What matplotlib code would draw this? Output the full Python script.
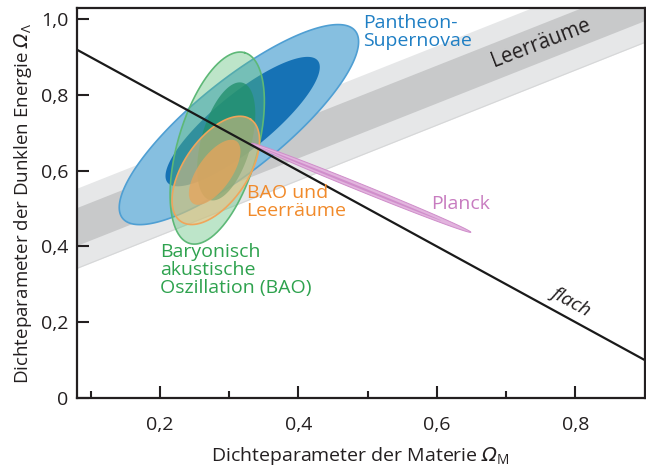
"""Dichteparameter: Omega_M vs Omega_Lambda mit Konfidenzbereichen."""

import numpy as np
import matplotlib
matplotlib.use("Agg")
import matplotlib.pyplot as plt
from matplotlib.ticker import FixedLocator, FuncFormatter

plt.rcParams['font.family'] = ['Open Sans', 'DejaVu Sans']
# math: slanted Omega via the cal slot, upright subscripts via \mathsf
plt.rcParams['mathtext.fontset'] = 'custom'
plt.rcParams['mathtext.rm'] = 'Open Sans'
plt.rcParams['mathtext.it'] = 'Open Sans:italic'
plt.rcParams['mathtext.cal'] = 'DejaVu Sans:oblique'
plt.rcParams['mathtext.sf'] = 'Open Sans'

# --- data -----------------------------------------------------------------
x_ticks = [0.2, 0.4, 0.6, 0.8]
x_minor = [0.1, 0.3, 0.5, 0.7]
y_ticks = [0.0, 0.2, 0.4, 0.6, 0.8, 1.0]

# flat universe: Omega_M + Omega_Lambda = 1
flat_x = [0.08, 0.90]
flat_y = [0.92, 0.10]

# Leerraeume band (lower / upper edges at both ends)
void_x = [0.08, 0.90]
void_dark_lo = [0.403, 0.997]
void_dark_hi = [0.503, 1.097]
void_light_lo = [0.342, 0.939]
void_light_hi = [0.554, 1.149]

# ellipses: center, semi-axis vector u, conjugate semi-axis vector v (data units)
pantheon_outer = ([0.314, 0.722], [0.168, 0.2475], [-0.0405, 0.0926])
pantheon_inner = ([0.3194, 0.730], [0.1085, 0.161], [-0.0253, 0.0575])
bao_outer = ([0.2827, 0.660], [0.0397, 0.252], [-0.0553, 0.0293])
bao_inner = ([0.2957, 0.6776], [0.0236, 0.155], [-0.0347, 0.0177])
bao_void_outer = ([0.2806, 0.601], [0.0505, 0.1348], [-0.038, 0.0478])
bao_void_inner = ([0.279, 0.596], [0.0314, 0.0821], [-0.020, 0.0257])
planck_outer = ([0.4906, 0.555], [0.1583, -0.1174], [0.0019, 0.0086])
planck_inner = ([0.476, 0.565], [0.130, -0.0965], [0.0006, 0.0027])


def ellipse_xy(params, n=300):
    c, u, v = params
    t = np.linspace(0, 2 * np.pi, n)
    x = c[0] + u[0] * np.cos(t) + v[0] * np.sin(t)
    y = c[1] + u[1] * np.cos(t) + v[1] * np.sin(t)
    return x, y


fig = plt.figure(figsize=(6.46, 4.72), dpi=100)
ax = fig.add_axes([0.119, 0.157, 0.879, 0.826])

# Leerraeume bands
ax.fill_between(void_x, void_light_lo, void_light_hi, color='#e6e7e8', lw=0, zorder=1)
ax.plot(void_x, void_light_lo, color='#d6d7d8', lw=0.8, zorder=1)
ax.fill_between(void_x, void_dark_lo, void_dark_hi, color='#c8c9ca', lw=0, zorder=1)

# Pantheon supernovae
x, y = ellipse_xy(pantheon_outer)
ax.fill(x, y, facecolor='#86bfe0', edgecolor='#4f9fd3', lw=1.2, zorder=2)
x, y = ellipse_xy(pantheon_inner)
ax.fill(x, y, facecolor='#1672b5', edgecolor='none', zorder=3)

# BAO
x, y = ellipse_xy(bao_outer)
ax.fill(x, y, facecolor='#5cbf7a', alpha=0.4, edgecolor='none', zorder=4)
ax.plot(x, y, color='#5db877', lw=1.2, zorder=4)
x, y = ellipse_xy(bao_inner)
ax.fill(x, y, facecolor='#23906e', alpha=0.8, edgecolor='none', zorder=5)

# BAO und Leerraeume
x, y = ellipse_xy(bao_void_outer)
ax.fill(x, y, facecolor='#f7c27e', alpha=0.5, edgecolor='none', zorder=6)
ax.plot(x, y, color='#f0a55a', lw=1.2, zorder=6)
x, y = ellipse_xy(bao_void_inner)
ax.fill(x, y, facecolor='#e9a45a', alpha=0.75, edgecolor='none', zorder=7)

# Planck
x, y = ellipse_xy(planck_outer)
ax.fill(x, y, facecolor='#e2b4de', edgecolor='#cf8dca', lw=0.7, zorder=8)
x, y = ellipse_xy(planck_inner)
ax.fill(x, y, facecolor='#c97fc4', alpha=0.7, edgecolor='none', zorder=8)

# flat line
ax.plot(flat_x, flat_y, color='#1a1a1a', lw=1.6, zorder=9, solid_capstyle='butt')

# labels in the plot
fs = 14
ax.text(0.4935, 1.015, 'Pantheon-\nSupernovae', color='#1f7fc4', fontsize=fs,
        ha='left', va='top', linespacing=1.0, zorder=10)
ax.text(0.325, 0.565, 'BAO und\nLeerräume', color='#f18a2a', fontsize=fs,
        ha='left', va='top', linespacing=1.0, zorder=10)
ax.text(0.2, 0.408, 'Baryonisch\nakustische\nOszillation (BAO)', color='#2ea24e',
        fontsize=fs, ha='left', va='top', linespacing=1.0, zorder=10)
ax.text(0.591, 0.50, 'Planck', color='#c87cc0', fontsize=fs,
        ha='left', va='baseline', zorder=10)
ax.text(0.750, 0.937, 'Leerräume', color='#231f20', fontsize=14.8, rotation=21.0,
        rotation_mode='anchor', ha='center', va='center', zorder=10)
ax.text(0.793, 0.255, 'flach', color='#231f20', fontsize=fs, style='italic',
        rotation=-28.6, rotation_mode='anchor', ha='center', va='center', zorder=10)

# axes
ax.set_xlim(0.08, 0.90)
ax.set_ylim(0.0, 1.03)
for s in ax.spines.values():
    s.set_linewidth(1.6)
    s.set_color('#231f20')
    s.set_zorder(11)

comma = FuncFormatter(lambda v, p: '0' if abs(v) < 1e-9 else f'{v:.1f}'.replace('.', ','))
ax.xaxis.set_major_locator(FixedLocator(x_ticks))
ax.xaxis.set_minor_locator(FixedLocator(x_minor))
ax.yaxis.set_major_locator(FixedLocator(y_ticks))
ax.xaxis.set_major_formatter(comma)
ax.yaxis.set_major_formatter(comma)
ax.tick_params(axis='both', which='major', direction='in', length=8.5, width=1.5,
               color='#231f20', labelsize=fs, labelcolor='#231f20')
ax.tick_params(axis='x', which='major', pad=13)
ax.tick_params(axis='y', which='major', pad=6)
ax.tick_params(axis='x', which='minor', direction='in', length=5, width=1.5, color='#231f20')

ax.set_xlabel(r'Dichteparameter der Materie $\mathcal{Ω}_{\mathsf{M}}$', fontsize=fs,
              color='#231f20', labelpad=8)
ax.set_ylabel(r'Dichteparameter der Dunklen Energie $\mathcal{Ω}_{\mathsf{Λ}}$',
              fontsize=13.5, color='#231f20', labelpad=5)

fig.savefig('out.png', dpi=100)
